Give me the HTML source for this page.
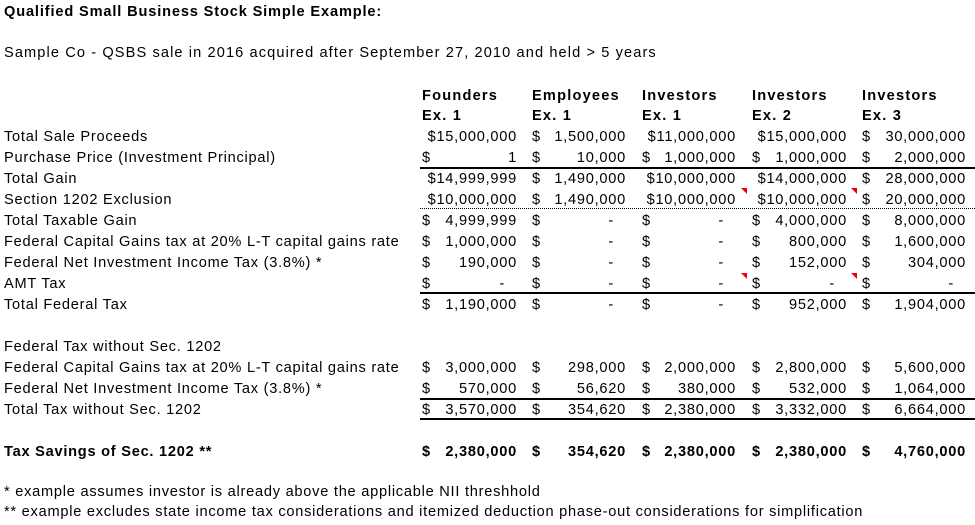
<!DOCTYPE html>
<html><head><meta charset="utf-8">
<style>
body{margin:0;width:975px;height:525px;background:#fff;overflow:hidden;font-family:"Liberation Sans",Arial,sans-serif;color:#000;}
.t{position:absolute;white-space:nowrap;font-size:14.6px;line-height:18px;letter-spacing:0.75px;}
.b{font-weight:bold;}
.r{text-align:right;}
.ln{position:absolute;height:0;border-top:2px solid #000;}
.dot{position:absolute;height:0;border-top:1px dotted #000;}
.tri{position:absolute;width:0;height:0;}
</style></head><body>
<div id="root"></div>
<script>
const labels=["Total Sale Proceeds","Purchase Price (Investment Principal)","Total Gain","Section 1202 Exclusion","Total Taxable Gain","Federal Capital Gains tax at 20% L-T capital gains rate","Federal Net Investment Income Tax (3.8%) *","AMT Tax","Total Federal Tax","","Federal Tax without Sec. 1202","Federal Capital Gains tax at 20% L-T capital gains rate","Federal Net Investment Income Tax (3.8%) *","Total Tax without Sec. 1202","","Tax Savings of Sec. 1202 **"];
const founders=["15,000,000","1","14,999,999","10,000,000","4,999,999","1,000,000","190,000","-","1,190,000","","","3,000,000","570,000","3,570,000","","2,380,000"];
const employees=["1,500,000","10,000","1,490,000","1,490,000","-","-","-","-","-","","","298,000","56,620","354,620","","354,620"];
const inv1=["11,000,000","1,000,000","10,000,000","10,000,000","-","-","-","-","-","","","2,000,000","380,000","2,380,000","","2,380,000"];
const inv2=["15,000,000","1,000,000","14,000,000","10,000,000","4,000,000","800,000","152,000","-","952,000","","","2,800,000","532,000","3,332,000","","2,380,000"];
const inv3=["30,000,000","2,000,000","28,000,000","20,000,000","8,000,000","1,600,000","304,000","-","1,904,000","","","5,600,000","1,064,000","6,664,000","","4,760,000"];
const headers1=["Founders","Employees","Investors","Investors","Investors"];
const headers2=["Ex. 1","Ex. 1","Ex. 1","Ex. 2","Ex. 3"];
const root=document.getElementById('root');
function txt(s,x,y,cls,w){const d=document.createElement('div');d.className='t '+(cls||'');d.style.left=x+'px';d.style.top=y+'px';if(w){d.style.width=w+'px';}d.textContent=s;root.appendChild(d);return d;}
let d=txt("Qualified Small Business Stock Simple Example:",4,3,'b');
d.style.letterSpacing='0.85px';

d=txt("Sample Co - QSBS sale in 2016 acquired after September 27, 2010 and held > 5 years",4,44);
d.style.letterSpacing='1.1px';

const colX=[422,532,642,752,862];const colR=[517,626,736,847,966];
const cols=[founders,employees,inv1,inv2,inv3];
for(let c=0;c<5;c++){
 d=txt(headers1[c],colX[c],87,'b');d.style.letterSpacing='1.2px';
 d=txt(headers2[c],colX[c],107,'b');d.style.letterSpacing='1.2px';
}
const rowY=r=>128+r*21;
for(let r=0;r<labels.length;r++){
 const y=rowY(r);
 const bold=r===15?'b':'';
 if(labels[r]){d=txt(labels[r],4,y,bold);}
 for(let c=0;c<5;c++){
  const v=cols[c][r];if(!v)continue;
  const big=v.length>=10&&(c===0||c===2||c===3);
  if(big){d=txt('$'+v,colX[c]-4,y,bold+' r',colR[c]-colX[c]+4);}
  else{txt('$',colX[c],y,bold);d=txt(v,colX[c],y,bold+' r',colR[c]-colX[c]-(v==='-'?12:0));}
  
 }
}
function line(cls,y){const l=document.createElement('div');l.className=cls;l.style.left='420px';l.style.width='555px';l.style.top=y+'px';root.appendChild(l);
}
line('ln',167);line('dot',208);line('ln',292);line('ln',398);line('ln',418);
d=txt("* example assumes investor is already above the applicable NII threshhold",4,483);

d=txt("** example excludes state income tax considerations and itemized deduction phase-out considerations for simplification",4,503);

const tris=[[741,188],[851,188],[741,273],[851,273]];
for(const t of tris){const e=document.createElement('div');e.className='tri';e.style.left=t[0]+'px';e.style.top=t[1]+'px';e.style.borderTop='6px solid #e00';e.style.borderLeft='6px solid transparent';root.appendChild(e);
}
</script>
</body></html>
